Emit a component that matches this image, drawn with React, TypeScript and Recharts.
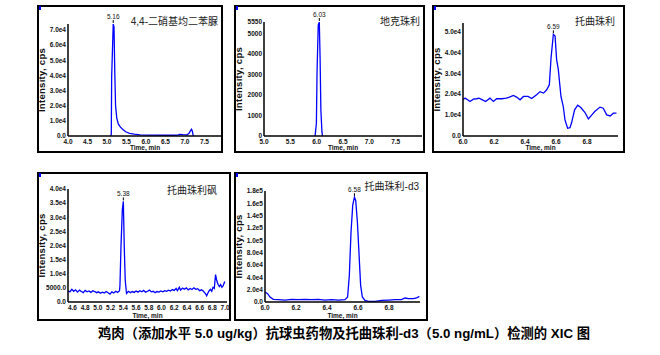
import React from "react"
import { LineChart, Line, XAxis, YAxis } from "recharts"

// 4,4-二硝基均二苯脲
const p1Time = [5.09, 5.11, 5.12, 5.16, 5.18, 5.2, 5.22, 5.25, 5.29, 5.34, 5.4, 5.48, 5.58, 5.7, 5.85, 6.1, 6.5, 6.8, 6.86, 6.95, 7.05, 7.1, 7.15, 7.17, 7.19, 7.21, 7.23]
const p1Value = [0, 1000, 39000, 74000, 72000, 42000, 20000, 12000, 8000, 6000, 4500, 2800, 1800, 1200, 800, 600, 500, 500, 1100, 900, 800, 1600, 3800, 4400, 3000, 500, 0]
const p1XTicks = [4.0, 4.5, 5.0, 5.5, 6.0, 6.5, 7.0, 7.5]
const p1YTicks = [0, 10000, 20000, 30000, 40000, 50000, 60000, 70000]
const p1YLabels = ["0.0", "1.0e4", "2.0e4", "3.0e4", "4.0e4", "5.0e4", "6.0e4", "7.0e4"]

// 地克珠利
const p2Time = [5.97, 5.995, 6.007, 6.03, 6.05, 6.065, 6.08, 6.1, 6.11]
const p2Value = [0, 620, 3090, 5400, 5550, 3790, 1270, 210, 0]
const p2XTicks = [5.0, 5.5, 6.0, 6.5, 7.0, 7.5]
const p2YTicks = [0, 1000, 2000, 3000, 4000, 5000, 5550]
const p2YLabels = ["0", "1000", "2000", "3000", "4000", "5000", "5550"]

// 托曲珠利
const p3Time = [6.0, 6.013, 6.03, 6.045, 6.067, 6.088, 6.103, 6.125, 6.146, 6.174, 6.196, 6.217, 6.25, 6.28, 6.3, 6.325, 6.346, 6.368, 6.39, 6.42, 6.443, 6.475, 6.497, 6.52, 6.54, 6.557, 6.568, 6.583, 6.594, 6.604, 6.615, 6.632, 6.647, 6.658, 6.675, 6.69, 6.7, 6.72, 6.74, 6.76, 6.787, 6.809, 6.83, 6.85, 6.884, 6.905, 6.927, 6.95, 6.97, 6.99]
const p3Value = [17300, 18100, 17300, 16500, 17600, 17800, 18100, 17300, 16500, 18100, 16500, 17800, 17800, 18100, 18600, 19400, 18600, 17300, 18900, 18900, 17900, 19700, 21200, 20500, 22100, 24500, 37300, 48600, 47800, 36500, 31700, 18900, 14100, 7700, 3700, 4000, 6200, 12500, 14700, 13600, 11200, 8200, 10000, 11700, 13800, 13300, 10100, 9600, 10900, 10900]
const p3XTicks = [6.0, 6.2, 6.4, 6.6, 6.8]
const p3YTicks = [0, 10000, 20000, 30000, 40000, 50000]
const p3YLabels = ["0.0", "1.0e4", "2.0e4", "3.0e4", "4.0e4", "5.0e4"]

// 托曲珠利砜
const p4Time = [4.53, 4.56, 4.59, 4.62, 4.65, 4.68, 4.71, 4.74, 4.77, 4.8, 4.83, 4.86, 4.89, 4.92, 4.95, 4.98, 5.01, 5.04, 5.07, 5.1, 5.13, 5.16, 5.19, 5.22, 5.25, 5.28, 5.31, 5.34, 5.347, 5.363, 5.384, 5.4, 5.415, 5.43, 5.45, 5.48, 5.51, 5.54, 5.57, 5.6, 5.63, 5.66, 5.69, 5.72, 5.75, 5.78, 5.81, 5.84, 5.87, 5.9, 5.93, 5.96, 5.99, 6.02, 6.05, 6.08, 6.11, 6.14, 6.17, 6.2, 6.23, 6.25, 6.28, 6.3, 6.33, 6.36, 6.39, 6.42, 6.45, 6.48, 6.51, 6.54, 6.57, 6.6, 6.63, 6.66, 6.69, 6.71, 6.73, 6.75, 6.77, 6.79, 6.81, 6.83, 6.85, 6.87, 6.89, 6.91, 6.93, 6.95, 6.97, 6.99, 7.0]
const p4Value = [4000, 3600, 4500, 3800, 4300, 3500, 4200, 3700, 3300, 4100, 3600, 3900, 3400, 4000, 3700, 3300, 3600, 3100, 3500, 3200, 3700, 3300, 2800, 3600, 3200, 3800, 3400, 4000, 5900, 19600, 32600, 35600, 19000, 7700, 3000, 3800, 3300, 3700, 3400, 3900, 3500, 4000, 3600, 4100, 3500, 3800, 4200, 3600, 3800, 3300, 3700, 3500, 3900, 3600, 4000, 3800, 4200, 3900, 4400, 4100, 4800, 4000, 5200, 4200, 4900, 4500, 5000, 4300, 4800, 4400, 5000, 4500, 4700, 4000, 4300, 3800, 3000, 2200, 3200, 4000, 4500, 3800, 5200, 4800, 9700, 7500, 6200, 5500, 6200, 5200, 5800, 7000, 6800]
const p4XTicks = [4.6, 4.8, 5.0, 5.2, 5.4, 5.6, 5.8, 6.0, 6.2, 6.4, 6.6, 6.8, 7.0]
const p4YTicks = [0, 5000, 10000, 15000, 20000, 25000, 30000, 35000, 40000]
const p4YLabels = ["0.0", "5000.0", "1.0e4", "1.5e4", "2.0e4", "2.5e4", "3.0e4", "3.5e4", "4.0e4"]

// 托曲珠利-d3
const p5Time = [6.0, 6.017, 6.032, 6.054, 6.086, 6.129, 6.172, 6.215, 6.258, 6.3, 6.344, 6.387, 6.43, 6.473, 6.516, 6.533, 6.544, 6.555, 6.566, 6.577, 6.585, 6.596, 6.606, 6.617, 6.628, 6.645, 6.667, 6.71, 6.753, 6.796, 6.839, 6.88, 6.903, 6.925, 6.957, 6.978, 6.996]
const p5Value = [16200, 13500, 8100, 4300, 3800, 3200, 4300, 3800, 4300, 3800, 4300, 3200, 3800, 3200, 3800, 8100, 43000, 113500, 157000, 170000, 165000, 130000, 81000, 27000, 8100, 2700, 1100, 1100, 2700, 3200, 3800, 3800, 6500, 5400, 5400, 6500, 9200]
const p5XTicks = [6.0, 6.2, 6.4, 6.6, 6.8]
const p5YTicks = [0, 20000, 40000, 60000, 80000, 100000, 120000, 140000, 160000, 180000]
const p5YLabels = ["0.0", "2.0e4", "4.0e4", "6.0e4", "8.0e4", "1.0e5", "1.2e5", "1.4e5", "1.6e5", "1.8e5"]

const tickFont = {
  fill: "#111",
  fontSize: 6.5,
  fontWeight: "bold" as const,
  fontFamily: "'Liberation Sans', Arial, sans-serif",
}
const axisStyle = { stroke: "#000", strokeWidth: 1.5 }

type Box = { x: number; y: number; w: number; h: number }
type Plot = { x0: number; x1: number; y0: number; y1: number }

function Panel(props: {
  box: Box
  plot: Plot
  xDomain: [number, number]
  yDomain: [number, number]
  xTicks: number[]
  yTicks: number[]
  yLabels: string[]
  time: number[]
  value: number[]
  peakLabel: string
  title: string
  titleRight: number
  titleY: number
}) {
  const { box, plot } = props
  const data = props.time.map((t, i) => ({ t, v: props.value[i] }))
  let peakIndex = 0
  props.value.forEach((v, i) => {
    if (v > props.value[peakIndex]) peakIndex = i
  })

  return (
    <>
      <div style={{ position: "absolute", left: box.x, top: box.y }}>
        <LineChart
          width={box.w}
          height={box.h}
          data={data}
          margin={{ top: plot.y0 - box.y, right: box.x + box.w - plot.x1, bottom: 0, left: 0 }}
        >
          <XAxis
            dataKey="t"
            type="number"
            domain={props.xDomain}
            ticks={props.xTicks}
            allowDataOverflow
            interval={0}
            height={box.y + box.h - plot.y1}
            tickSize={0}
            tickMargin={3}
            axisLine={axisStyle}
            tickLine={false}
            tick={tickFont}
            tickFormatter={(v: number) => v.toFixed(1)}
            label={{ value: "Time, min", position: "insideBottom", offset: 3, style: tickFont }}
          />
          <YAxis
            type="number"
            domain={props.yDomain}
            ticks={props.yTicks}
            allowDataOverflow
            interval={0}
            width={plot.x0 - box.x}
            tickSize={0}
            tickMargin={2}
            axisLine={axisStyle}
            tickLine={false}
            tick={tickFont}
            tickFormatter={(v: number) => props.yLabels[props.yTicks.indexOf(v)]}
            label={{
              value: "Intensity, cps",
              angle: -90,
              position: "insideLeft",
              offset: 5,
              style: { ...tickFont, fontSize: 9.5, letterSpacing: 0.3, textAnchor: "middle" },
            }}
          />
          <Line
            type="linear"
            dataKey="v"
            stroke="#0000ff"
            strokeWidth={1.3}
            dot={false}
            isAnimationActive={false}
            label={(p: any) =>
              p.index === peakIndex ? (
                <g key="peak">
                  <text x={p.x} y={p.y - 5} textAnchor="middle" style={{ ...tickFont, fontWeight: "normal" }}>
                    {props.peakLabel}
                  </text>
                  <line x1={p.x} x2={p.x} y1={p.y - 4} y2={p.y - 1} stroke="#000" strokeWidth={1} />
                </g>
              ) : null
            }
          />
        </LineChart>
      </div>
      <div
        style={{
          position: "absolute",
          left: box.x,
          top: box.y,
          width: box.w,
          height: box.h,
          border: "2px solid #000",
          boxSizing: "border-box",
          pointerEvents: "none",
        }}
      />
      <div
        style={{
          position: "absolute",
          left: box.x + 2,
          top: box.y + 1,
          width: 2,
          height: 4,
          background: "#0000ff",
        }}
      />
      <div
        style={{
          position: "absolute",
          right: 660 - props.titleRight,
          top: props.titleY - 7,
          fontSize: 10,
          lineHeight: "14px",
          color: "#222",
          whiteSpace: "nowrap",
          fontFamily: "'Liberation Sans', 'Noto Sans CJK SC', sans-serif",
        }}
      >
        {props.title}
      </div>
    </>
  )
}

export default function App() {
  return (
    <div style={{ position: "absolute", left: 0, top: 0, width: 660, height: 355, background: "#fff" }}>
      <Panel
        box={{ x: 37, y: 5, w: 186, h: 148 }}
        plot={{ x0: 68, x1: 222, y0: 24, y1: 136 }}
        xDomain={[4.0, 7.95]}
        yDomain={[0, 74000]}
        xTicks={p1XTicks}
        yTicks={p1YTicks}
        yLabels={p1YLabels}
        time={p1Time}
        value={p1Value}
        peakLabel="5.16"
        title="4,4-二硝基均二苯脲"
        titleRight={218}
        titleY={22}
      />
      <Panel
        box={{ x: 234, y: 5, w: 191, h: 148 }}
        plot={{ x0: 264, x1: 422, y0: 22, y1: 136 }}
        xDomain={[5.0, 8.0]}
        yDomain={[0, 5550]}
        xTicks={p2XTicks}
        yTicks={p2YTicks}
        yLabels={p2YLabels}
        time={p2Time}
        value={p2Value}
        peakLabel="6.03"
        title="地克珠利"
        titleRight={420}
        titleY={22}
      />
      <Panel
        box={{ x: 432, y: 5, w: 193, h: 148 }}
        plot={{ x0: 463, x1: 618, y0: 23, y1: 136 }}
        xDomain={[6.0, 7.0]}
        yDomain={[0, 54000]}
        xTicks={p3XTicks}
        yTicks={p3YTicks}
        yLabels={p3YLabels}
        time={p3Time}
        value={p3Value}
        peakLabel="6.59"
        title="托曲珠利"
        titleRight={615}
        titleY={22}
      />
      <Panel
        box={{ x: 37, y: 172, w: 194, h: 149 }}
        plot={{ x0: 68, x1: 227, y0: 189, y1: 302 }}
        xDomain={[4.53, 7.03]}
        yDomain={[0, 40000]}
        xTicks={p4XTicks}
        yTicks={p4YTicks}
        yLabels={p4YLabels}
        time={p4Time}
        value={p4Value}
        peakLabel="5.38"
        title="托曲珠利砜"
        titleRight={217}
        titleY={191}
      />
      <Panel
        box={{ x: 234, y: 172, w: 194, h: 149 }}
        plot={{ x0: 265, x1: 420, y0: 191, y1: 302 }}
        xDomain={[6.0, 7.0]}
        yDomain={[0, 180000]}
        xTicks={p5XTicks}
        yTicks={p5YTicks}
        yLabels={p5YLabels}
        time={p5Time}
        value={p5Value}
        peakLabel="6.58"
        title="托曲珠利-d3"
        titleRight={419}
        titleY={187}
      />
      <div
        style={{
          position: "absolute",
          left: 98,
          top: 326,
          fontSize: 13.3,
          lineHeight: "16px",
          fontWeight: "bold",
          color: "#000",
          whiteSpace: "nowrap",
          fontFamily: "'Liberation Sans', 'Noto Sans CJK SC', sans-serif",
        }}
      >
        鸡肉（添加水平 5.0 ug/kg）抗球虫药物及托曲珠利-d3（5.0 ng/mL）检测的 XIC 图
      </div>
    </div>
  )
}
